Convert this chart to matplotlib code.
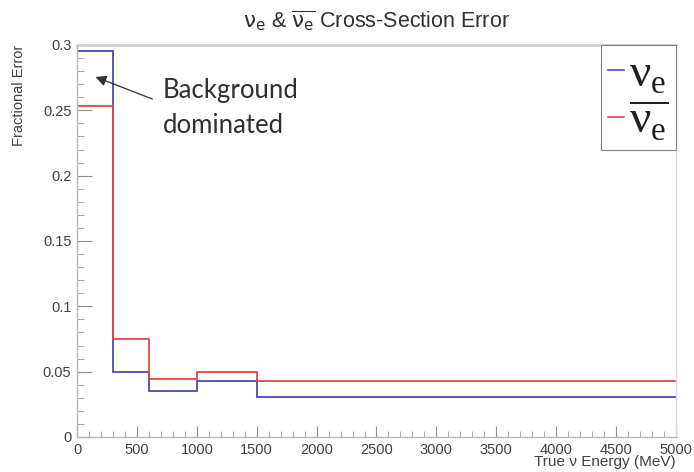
import numpy as np
import matplotlib
matplotlib.use('Agg')
from matplotlib import pyplot as plt
from matplotlib.lines import Line2D

plt.rcParams['font.family'] = ['Liberation Sans', 'DejaVu Sans']
plt.rcParams['mathtext.rm'] = 'Liberation Serif'

# bin edges (MeV) and fractional errors
bin_edges = [0, 300, 600, 1000, 1500, 5000]
nue_err = [0.2955, 0.0497, 0.0354, 0.0431, 0.0308]
nuebar_err = [0.2533, 0.0748, 0.0442, 0.0497, 0.0431]

x_ticks = [0, 500, 1000, 1500, 2000, 2500, 3000, 3500, 4000, 4500, 5000]
y_ticks = [0, 0.05, 0.1, 0.15, 0.2, 0.25, 0.3]
y_tick_labels = ['0', '0.05', '0.1', '0.15', '0.2', '0.25', '0.3']

blue = '#4a4ab8'
red = '#e04848'
frame = '#b4b4b4'

fig = plt.figure(figsize=(6.94, 4.72), dpi=100)
ax = fig.add_axes([0.111, 0.0742, 0.863, 0.8305])

ax.stairs(nue_err, bin_edges, baseline=None, color=blue, lw=1.3)
ax.stairs(nuebar_err, bin_edges, baseline=None, color=red, lw=1.3)

ax.set_xlim(0, 5000)
ax.set_ylim(0, 0.3)
ax.set_xticks(x_ticks)
ax.set_xticklabels([str(t) for t in x_ticks])
ax.set_yticks(y_ticks)
ax.set_yticklabels(y_tick_labels)
ax.set_xticks(np.arange(0, 5001, 100), minor=True)
ax.set_yticks(np.arange(0, 0.3001, 0.01), minor=True)

ax.tick_params(axis='x', which='major', direction='in', length=8, width=0.8, color='#909090',
               labelsize=10.5, labelcolor='#404040', pad=4)
ax.tick_params(axis='x', which='minor', direction='in', length=4, width=0.6, color='#a0a0a0')
ax.tick_params(axis='y', which='major', direction='in', length=11, width=0.8, color='#909090',
               labelsize=10.5, labelcolor='#404040', pad=4)
ax.tick_params(axis='y', which='minor', direction='in', length=5, width=0.6, color='#a0a0a0')

for side in ['left', 'bottom', 'top', 'right']:
    ax.spines[side].set_color(frame)
    ax.spines[side].set_linewidth(1.0)
ax.spines['top'].set_color('#d0d0d0')
ax.spines['top'].set_linewidth(2.0)
ax.spines['right'].set_color('#d8d8d8')

title = ax.set_title(r'$\mathrm{\nu}_\mathrm{e}$ & $\overline{\mathrm{\nu}_\mathrm{e}}$ Cross-Section Error',
                     fontsize=15.5, color='#303030', pad=13)
title.set_math_fontfamily('dejavusans')
ax.set_xlabel('True ν Energy (MeV)', fontsize=11, color='#404040', loc='right', labelpad=-1)
ax.set_ylabel('Fractional Error', fontsize=10.5, color='#404040', loc='top', labelpad=12)

# legend
handles = [Line2D([], [], color=blue, lw=1.2), Line2D([], [], color=red, lw=1.2)]
leg = ax.legend(handles, [r'$\mathrm{\nu}_\mathrm{e}$', r'$\overline{\mathrm{\nu}_\mathrm{e}}$'],
                loc='upper right', bbox_to_anchor=(1.0, 1.0), borderaxespad=0, fancybox=False,
                edgecolor='#808080', framealpha=1, fontsize=34, handlelength=0.35,
                handletextpad=0.1, labelspacing=0.05, borderpad=0.15)
leg.get_frame().set_linewidth(0.8)
for t in leg.get_texts():
    t.set_math_fontfamily('custom')
    t.set_color('#202020')

# annotation
ax.annotate('', xy=(133, 0.2763), xytext=(650, 0.2579),
            arrowprops=dict(arrowstyle='-|>', color='#303030', lw=0.9, mutation_scale=16))
ax.text(717, 0.2515, 'Background\ndominated', fontsize=18.5, color='#303030',
        family=['Lato', 'DejaVu Sans'], linespacing=1.5, va='center', ha='left')

fig.savefig('out.png', dpi=100, facecolor='white')
